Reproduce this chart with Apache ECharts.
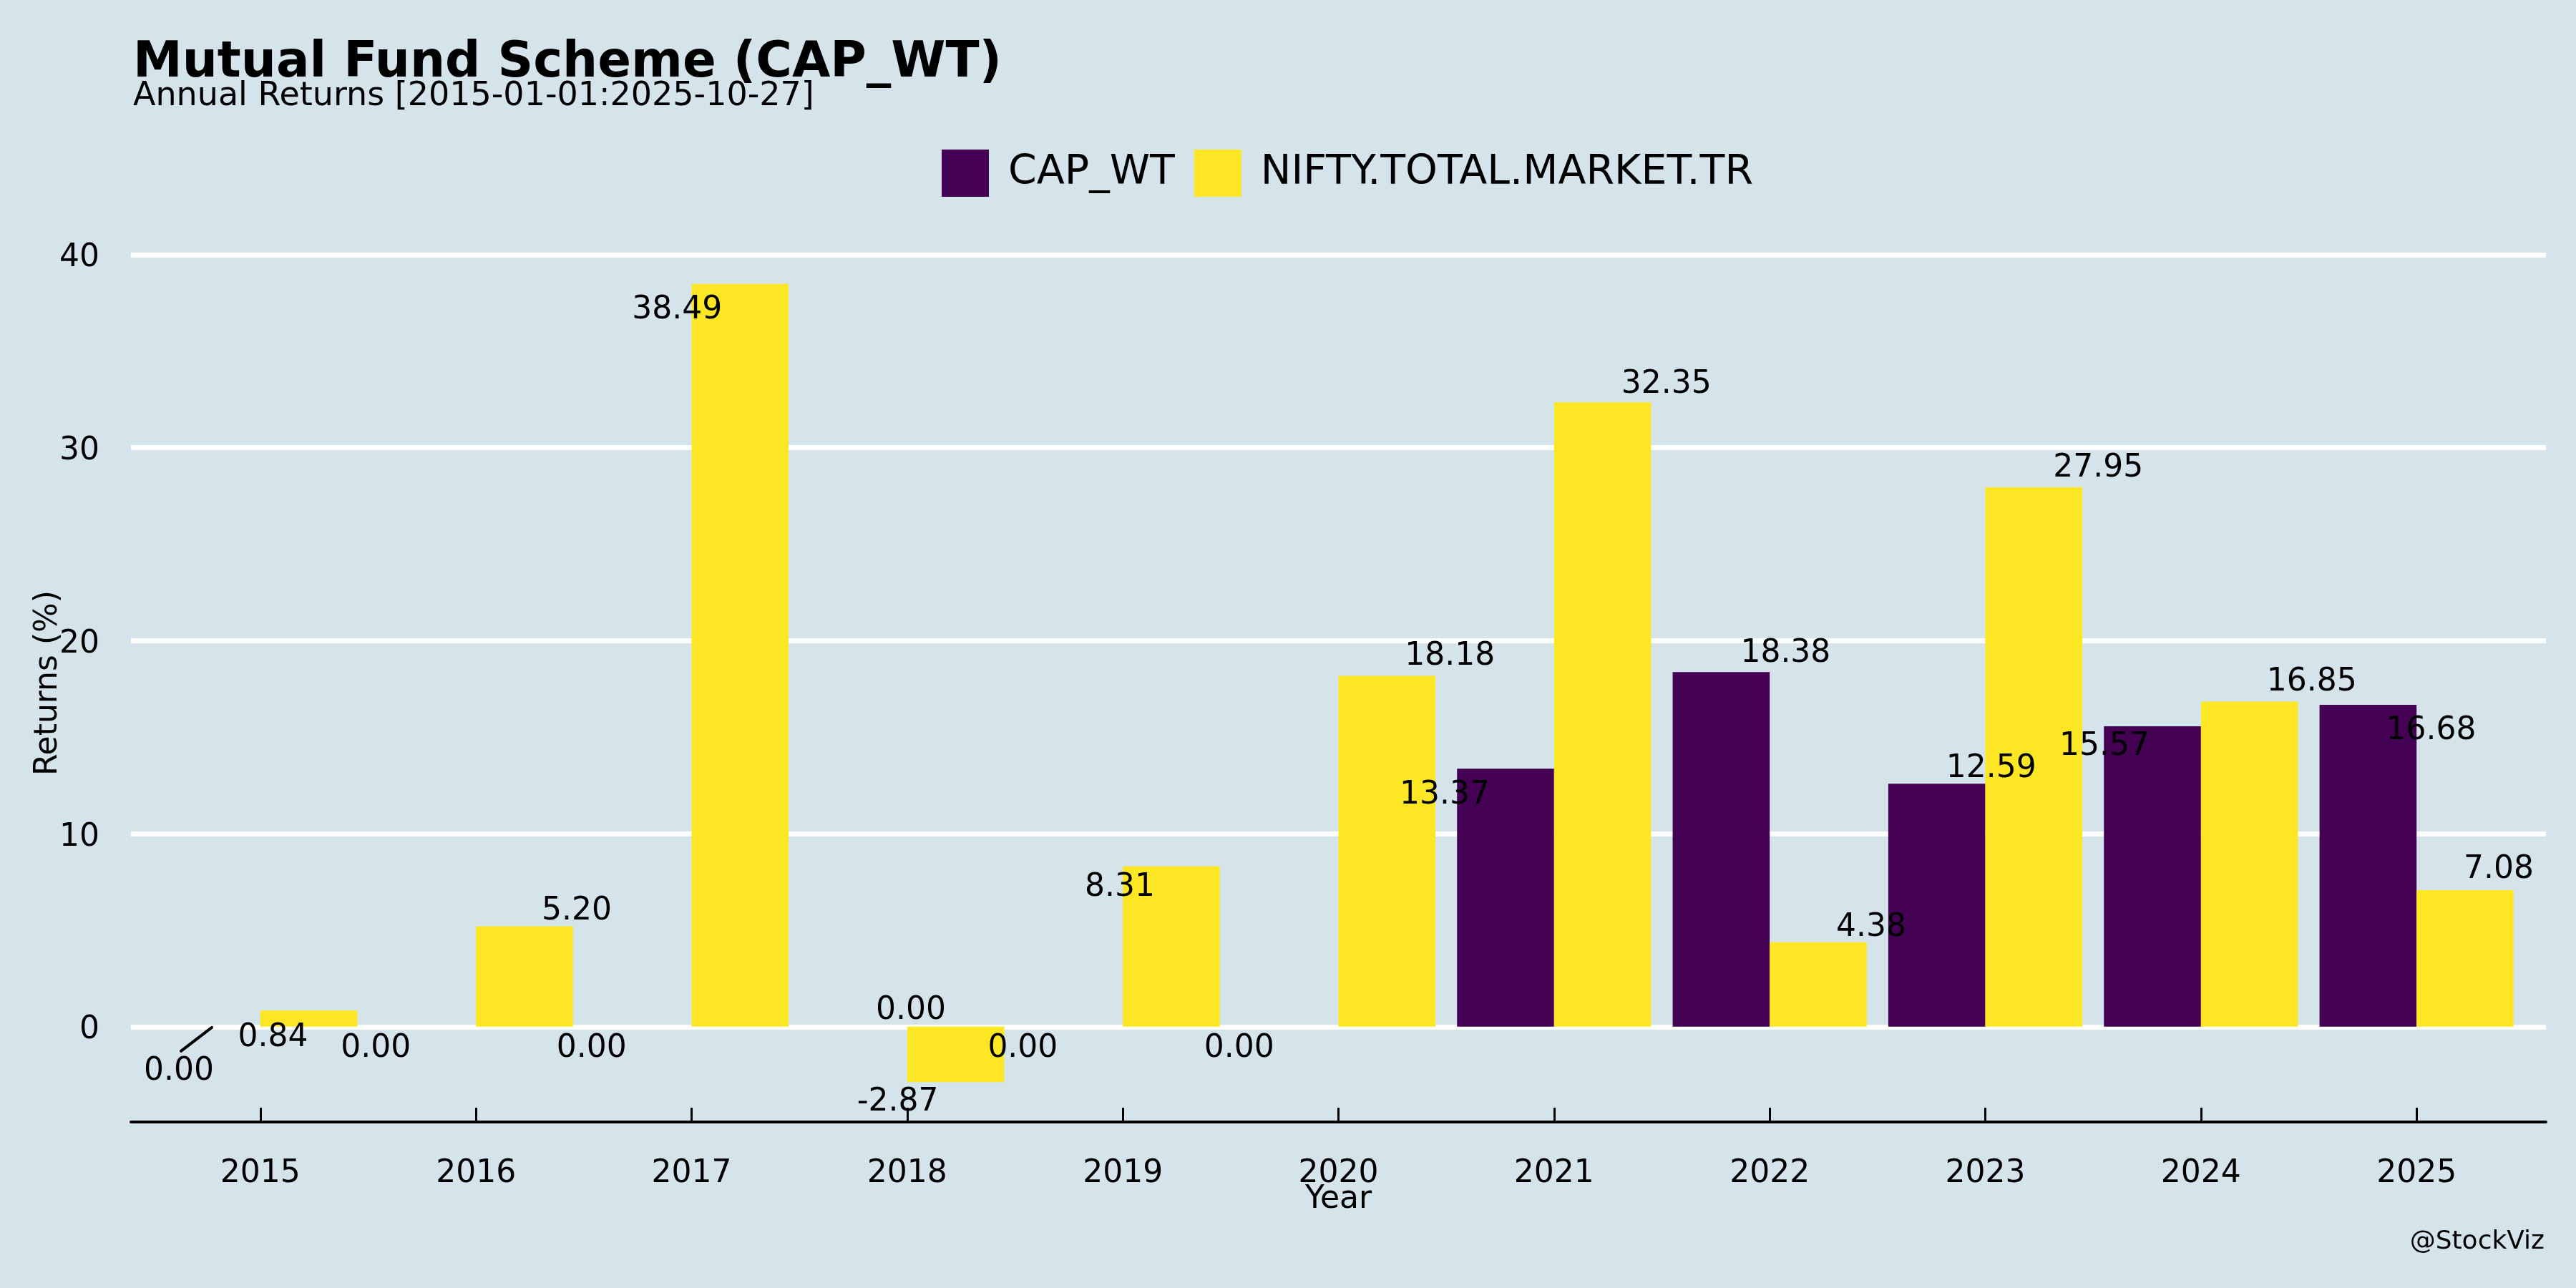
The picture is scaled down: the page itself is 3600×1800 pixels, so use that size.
<!DOCTYPE html>
<html>
<head>
<meta charset="utf-8">
<script src="https://cdn.jsdelivr.net/npm/echarts@6/dist/echarts.min.js"></script>
<style>
html,body{margin:0;padding:0;background:#d5e4eb;}
#chart{width:3600px;height:1800px;}
</style>
</head>
<body>
<div id="chart"></div>
<script>
const years = [2015, 2016, 2017, 2018, 2019, 2020, 2021, 2022, 2023, 2024, 2025];
const capWt = [0, 0, 0, 0, 0, 0, 13.37, 18.38, 12.59, 15.57, 16.68];
const nifty = [0.84, 5.20, 38.49, -2.87, 8.31, 18.18, 32.35, 4.38, 27.95, 16.85, 7.08];
const yTicks = [0, 10, 20, 30, 40];
const seriesNames = ['CAP_WT', 'NIFTY.TOTAL.MARKET.TR'];

// label displacement (px) relative to bar top, mimicking the repelled labels
const capLabelShift = [[-46,63],[-72,31],[-72,31],[73,-22],[-72,31],[-71,31],[-85,37],[90,-26],[76,-21],[-67,29],[88,37]];
const niftyLabelShift = [[-50,38],[73,-21],[-88,37],[-81,106],[-72,30],[88,-27],[89,-25],[74,-20],[90,-26],[87,-27],[47,-28]];

const FONT = 'DejaVu Sans';
const chart = echarts.init(document.getElementById('chart'), null, {renderer: 'canvas'});

function buildData(vals, shifts) {
  return vals.map((v, i) => ({
    value: [years[i], v],
    label: {offset: shifts[i]}
  }));
}

const labelCommon = {
  show: true,
  position: 'top',
  distance: 0,
  align: 'center',
  verticalAlign: 'middle',
  fontFamily: FONT,
  fontSize: 44,
  color: '#000',
  formatter: p => p.value[1].toFixed(2)
};

const option = {
  backgroundColor: '#d5e4eb',
  animation: false,
  textStyle: {fontFamily: FONT},
  title: [
    {text: 'Mutual Fund Scheme (CAP_WT)', left: 181, top: 50,
     textStyle: {fontFamily: FONT, fontSize: 69, fontWeight: 'bold', color: '#000'}},
    {text: 'Annual Returns [2015-01-01:2025-10-27]', left: 181, top: 107,
     textStyle: {fontFamily: FONT, fontSize: 46, fontWeight: 'normal', color: '#000'}}
  ],
  legend: {
    data: seriesNames,
    left: 1311, top: 204,
    icon: 'rect',
    itemWidth: 66, itemHeight: 66, itemGap: 27,
    textStyle: {fontFamily: FONT, fontSize: 57, color: '#000', padding: [0, 0, 0, 22]}
  },
  grid: {left: 183, right: 42, top: 341, bottom: 232, containLabel: false},
  xAxis: {
    type: 'value',
    min: 2014.4, max: 2025.6,
    name: 'Year', nameLocation: 'middle', nameGap: 87, nameMoveOverlap: false,
    nameTextStyle: {fontFamily: FONT, fontSize: 44, color: '#000'},
    axisLine: {show: true, onZero: false, lineStyle: {color: '#000', width: 4}},
    axisTick: {show: true, inside: true, length: 20, customValues: years, lineStyle: {color: '#000', width: 3}},
    axisLabel: {customValues: years, margin: 51, fontFamily: FONT, fontSize: 44, color: '#000',
                formatter: v => String(v)},
    splitLine: {show: false}
  },
  yAxis: {
    type: 'value',
    min: -4.938, max: 40.558,
    name: 'Returns (%)', nameLocation: 'middle', nameGap: 93, nameMoveOverlap: false,
    nameTextStyle: {fontFamily: FONT, fontSize: 44, color: '#000'},
    axisLine: {show: false},
    axisTick: {show: false, customValues: yTicks},
    axisLabel: {customValues: yTicks, margin: 44, fontFamily: FONT, fontSize: 44, color: '#000',
                formatter: v => '{a|' + v + '}',
                rich: {a: {fontFamily: FONT, fontSize: 44, color: '#000', padding: [10, 0, 0, 0]}}},
    splitLine: {show: true, lineStyle: {color: '#ffffff', width: 7}}
  },
  series: [
    {
      name: seriesNames[0], type: 'bar',
      barWidth: '45%', barGap: '0%',
      itemStyle: {color: '#440154'},
      label: labelCommon,
      data: buildData(capWt, capLabelShift)
    },
    {
      name: seriesNames[1], type: 'bar',
      barWidth: '45%', barGap: '0%',
      itemStyle: {color: '#fde725'},
      label: labelCommon,
      data: buildData(nifty, niftyLabelShift)
    }
  ],
  graphic: [
    {id: 'credit', type: 'text', right: 44, top: 1718,
     style: {text: '@StockViz', fontFamily: FONT, fontSize: 36, fill: '#000'}}
  ]
};
chart.setOption(option);

// connector from the first CAP_WT bar to its displaced label (derived via the axis scales)
const barTop = chart.convertToPixel({gridIndex: 0}, [years[0] - 0.225, capWt[0]]);
const lblCenter = [barTop[0] + capLabelShift[0][0], barTop[1] + capLabelShift[0][1]];
chart.setOption({
  graphic: [
    {id: 'connector', type: 'line', z: 10,
     shape: {x1: barTop[0], y1: barTop[1] + 1, x2: lblCenter[0] + 3, y2: lblCenter[1] - 29},
     style: {stroke: '#000', lineWidth: 4, lineCap: 'round'}}
  ]
});
</script>
</body>
</html>
